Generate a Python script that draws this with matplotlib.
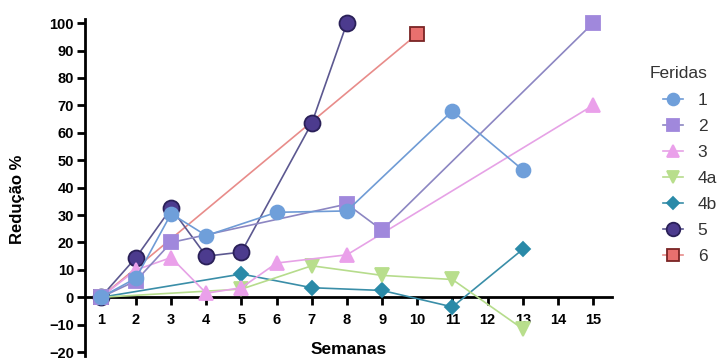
import matplotlib
matplotlib.use("Agg")
import matplotlib.pyplot as plt

plt.rcParams['font.family'] = ['Liberation Sans', 'DejaVu Sans']

# data (week -> % reduction)
weeks_1 = [1, 2, 3, 4, 6, 8, 11, 13]
vals_1 = [0, 7, 30.5, 22.5, 31, 31.5, 68, 46.5]

weeks_2 = [1, 2, 3, 8, 9, 15]
vals_2 = [0, 6, 20, 34, 24.5, 100]

weeks_3 = [1, 2, 3, 4, 5, 6, 8, 15]
vals_3 = [0, 10, 14.5, 1.5, 3.5, 12.5, 15.5, 70]

weeks_4a = [1, 5, 7, 9, 11, 13]
vals_4a = [0, 3, 11.5, 8, 6.5, -11.5]

weeks_4b = [1, 5, 7, 9, 11, 13]
vals_4b = [0, 8.5, 3.5, 2.5, -3.5, 17.5]

weeks_5 = [1, 2, 3, 4, 5, 7, 8]
vals_5 = [0, 14.5, 32.5, 15, 16.5, 63.5, 100]

weeks_6 = [1, 10]
vals_6 = [0, 96]

labels = ["1", "2", "3", "4a", "4b", "5", "6"]
xticks = list(range(1, 16))
yticks = list(range(-20, 101, 10))

# (weeks, values, marker, size, face, edge, line colour)
series = [
    (weeks_1, vals_1, 'o', 10, '#6f9fda', '#6f9fda', '#6f9bd5'),
    (weeks_2, vals_2, 's', 9.5, '#a088dc', '#a088dc', '#8c86c2'),
    (weeks_3, vals_3, '^', 9.5, '#eaa0ea', '#eaa0ea', '#e6a2e6'),
    (weeks_4a, vals_4a, 'v', 9.5, '#b8de8c', '#b8de8c', '#b6dc8c'),
    (weeks_4b, vals_4b, 'D', 7.5, '#2a8aa8', '#2a8aa8', '#3a8ea8'),
    (weeks_5, vals_5, 'o', 11.5, '#4c3b8e', '#2a2058', '#5c5890'),
    (weeks_6, vals_6, 's', 9.5, '#e8706e', '#7a2424', '#e88c8a'),
]

fig = plt.figure(figsize=(7.18, 3.6), dpi=100)
ax = fig.add_axes([85 / 718, 4 / 360, 527 / 718, 337 / 360])

handles = []
for i, (wk, v, mk, ms, fc, ec, lc) in enumerate(series):
    h, = ax.plot(wk, v, color=lc, lw=1.2, marker=mk, markersize=ms,
                 markerfacecolor=fc, markeredgecolor=ec, markeredgewidth=1.3,
                 zorder=10 - i, clip_on=False, label=labels[i])
    handles.append(h)

ax.set_xlim(0.55, 15.54)
ax.set_ylim(-21.4, 101.5)
ax.set_xticks(xticks)
ax.set_yticks(yticks)

for s in ['top', 'right']:
    ax.spines[s].set_visible(False)
ax.spines['bottom'].set_position(('data', 0))
ax.spines['bottom'].set_linewidth(2)
ax.spines['left'].set_linewidth(2)
ax.spines['bottom'].set_zorder(1)
ax.tick_params(axis='both', direction='out', length=6, width=2,
               labelsize=10.5)
ax.tick_params(axis='x', pad=5)
ax.tick_params(axis='y', pad=2)
for t in ax.get_xticklabels() + ax.get_yticklabels():
    t.set_fontweight('bold')

ax.text(0.5, 0.02, "Semanas", transform=ax.transAxes, ha='center', va='center',
        fontsize=12.5, fontweight='bold')
fig.text(18 / 718, 1 - 199 / 360, "Redução %", rotation=90, ha='center',
         va='center', fontsize=12, fontweight='bold')

fig.text(650 / 718, 1 - 74 / 360, "Feridas", ha='left', va='center',
         fontsize=12.5, color='#333333')
leg = fig.legend(handles=handles, loc='upper left',
                 bbox_to_anchor=(663 / 718, 1 - 93 / 360), frameon=False,
                 fontsize=12.5, handlelength=1.15, borderpad=0, borderaxespad=0,
                 labelspacing=0.62, handletextpad=0.85, markerscale=0.85)
for t in leg.get_texts():
    t.set_color('#333333')

fig.savefig("out.png", dpi=100)
